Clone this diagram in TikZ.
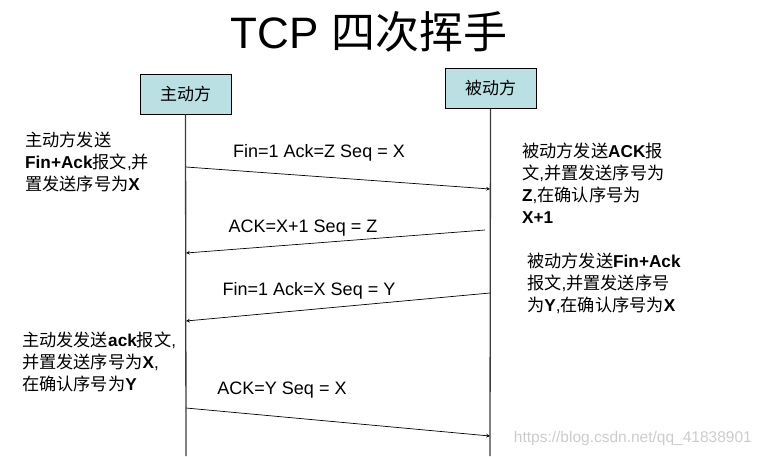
\documentclass[tikz,border=0pt]{standalone}
\usepackage{fontspec}
\setmainfont{Liberation Sans}
\newfontfamily\cjk{Noto Sans CJK SC}
\usepackage{tikz}
\usepackage{xcolor}
\definecolor{boxcyan}{RGB}{186,224,228}
\definecolor{lifegray}{RGB}{60,60,60}

\begin{document}
\begin{tikzpicture}[x=1pt, y=-1pt,
  party/.style={draw=black, fill=boxcyan, line width=0.8pt,
    minimum width=91pt, minimum height=40pt,
    font=\fontsize{17}{19}\selectfont\cjk},
  life/.style={line width=1.3pt, color=lifegray},
  arr/.style={->, >=stealth, line width=0.7pt, color=black},
  lbl/.style={font=\fontsize{18}{20}\selectfont, inner sep=0pt},
  note/.style={anchor=north west, align=left, inner sep=0pt,
    font=\fontsize{17.2}{22}\selectfont}
]
  \useasboundingbox (0,0) rectangle (757,456);

  \node[font=\fontsize{44}{48}\selectfont, anchor=base] (title) at (369,48)
    {TCP {\cjk 四次挥手}};

  \node[party] (act) at (185.5,94)  {主动方};
  \node[party] (pas) at (490.5,88.5) {被动方};

  \coordinate (actEnd) at (186,456);
  \coordinate (pasEnd) at (490,456);
  \draw[life] (act.south) -- (actEnd);
  \draw[life] (pas.south) -- (pasEnd);

  % points on the lifelines
  \coordinate (a1) at (186,167);
  \coordinate (p1) at (490,189);
  \coordinate (p2) at (485,230);
  \coordinate (a2) at (186,253);
  \coordinate (p3) at (490,293);
  \coordinate (a3) at (186,321);
  \coordinate (a4) at (186,408);
  \coordinate (p4) at (490,436);

  \draw[arr] (a1) -- (p1);
  \draw[arr] (p2) -- (a2);
  \draw[arr] (p3) -- (a3);
  \draw[arr] (a4) -- (p4);

  \node[lbl] (fin1) at (319,153) {Fin=1 Ack=Z Seq = X};
  \node[lbl] (ack1) at (303,228) {ACK=X+1 Seq = Z};
  \node[lbl] (fin2) at (309,291) {Fin=1 Ack=X Seq = Y};
  \node[lbl] (ack2) at (282,390) {ACK=Y Seq = X};

  \node[note] (n1) at (25,132)
    {{\cjk 主动方发送}\\
     \textbf{Fin+Ack}{\cjk 报文},{\cjk 并}\\
     {\cjk 置发送序号为}\textbf{X}};
  \node[note] (n2) at (522,143)
    {{\cjk 被动方发送}\textbf{ACK}{\cjk 报}\\
     {\cjk 文},{\cjk 并置发送序号为}\\
     \textbf{Z},{\cjk 在确认序号为}\\
     \textbf{X+1}};
  \node[note] (n3) at (527,253)
    {{\cjk 被动方发送}\textbf{Fin+Ack}\\
     {\cjk 报文},{\cjk 并置发送序号}\\
     {\cjk 为}\textbf{Y},{\cjk 在确认序号为}\textbf{X}};
  \node[note] (n4) at (22,332)
    {{\cjk 主动发发送}\textbf{ack}{\cjk 报文},\\
     {\cjk 并置发送序号为}\textbf{X},\\
     {\cjk 在确认序号为}\textbf{Y}};

  \node[font=\fontsize{15.5}{18}\selectfont, color=gray!40, anchor=east,
    inner sep=0pt] (mark) at (752,438) {https://blog.csdn.net/qq\_41838901};
\end{tikzpicture}
\end{document}
